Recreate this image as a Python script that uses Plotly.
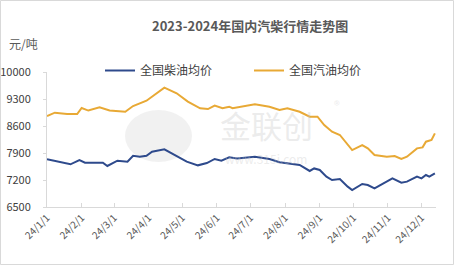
import plotly.graph_objects as go

# ---- data ----
gas_dates = ["2024-01-01", "2024-01-08", "2024-01-19", "2024-01-28", "2024-02-01", "2024-02-07",
             "2024-02-17", "2024-02-26", "2024-03-11", "2024-03-18", "2024-03-30", "2024-04-08",
             "2024-04-15", "2024-04-26", "2024-05-06", "2024-05-17", "2024-05-24", "2024-05-30",
             "2024-06-06", "2024-06-12", "2024-06-15", "2024-07-05", "2024-07-18", "2024-07-27",
             "2024-08-03", "2024-08-14", "2024-08-23", "2024-08-30", "2024-09-05", "2024-09-12",
             "2024-09-19", "2024-09-30", "2024-10-09", "2024-10-14", "2024-10-20", "2024-10-31",
             "2024-11-07", "2024-11-13", "2024-11-18", "2024-11-27", "2024-12-02", "2024-12-05",
             "2024-12-10", "2024-12-13"]
gas_values = [8860, 8945, 8910, 8910, 9067, 9000,
              9085, 9000, 8970, 9118, 9256, 9447,
              9594, 9448, 9231, 9060, 9040, 9127,
              9060, 9100, 9060, 9162, 9100, 9015,
              9060, 8970, 8840, 8840, 8625, 8452,
              8367, 7977, 8107, 8020, 7848, 7805,
              7820, 7744, 7805, 8020, 8046, 8193,
              8240, 8410]

diesel_dates = ["2024-01-01", "2024-01-11", "2024-01-22", "2024-01-30", "2024-02-04", "2024-02-20",
                "2024-02-24", "2024-03-04", "2024-03-13", "2024-03-18", "2024-03-24", "2024-03-30",
                "2024-04-04", "2024-04-15", "2024-04-24", "2024-05-05", "2024-05-15", "2024-05-23",
                "2024-05-30", "2024-06-05", "2024-06-12", "2024-06-19", "2024-07-05", "2024-07-18",
                "2024-07-27", "2024-08-14", "2024-08-23", "2024-08-27", "2024-09-01", "2024-09-07",
                "2024-09-12", "2024-09-19", "2024-09-26", "2024-09-30", "2024-10-09", "2024-10-14",
                "2024-10-20", "2024-10-27", "2024-11-05", "2024-11-13", "2024-11-18", "2024-11-27",
                "2024-12-01", "2024-12-05", "2024-12-08", "2024-12-13"]
diesel_values = [7737, 7676, 7607, 7718, 7650, 7650,
                 7563, 7700, 7676, 7830, 7805, 7830,
                 7935, 7996, 7850, 7676, 7580, 7640,
                 7745, 7700, 7788, 7760, 7805, 7745,
                 7660, 7590, 7434, 7500, 7460, 7286,
                 7200, 7225, 7027, 6940, 7096, 7070,
                 6985, 7096, 7243, 7130, 7157, 7286,
                 7243, 7330, 7286, 7373]

tick_dates = ["2024-01-01", "2024-02-01", "2024-03-01", "2024-04-01", "2024-05-01", "2024-06-01",
              "2024-07-01", "2024-08-01", "2024-09-01", "2024-10-01", "2024-11-01", "2024-12-01"]
tick_labels = ["24/1/1", "24/2/1", "24/3/1", "24/4/1", "24/5/1", "24/6/1",
               "24/7/1", "24/8/1", "24/9/1", "24/10/1", "24/11/1", "24/12/1"]
y_ticks = [6500, 7200, 7900, 8600, 9300, 10000]
y_labels = ["6500", "7200", "7900", "8600", "9300", "10000"]

title_text = "2023-2024年国内汽柴行情走势图"
unit_text = "元/吨"
diesel_name = "全国柴油均价"
gas_name = "全国汽油均价"

# ---- layout constants ----
W, H = 454, 265
L, R, T, B = 47, 18, 72, 58
pw, ph = W - L - R, H - T - B
FONT = "Noto Sans CJK SC, Lato, sans-serif"

fig = go.Figure()
fig.add_trace(go.Scatter(x=diesel_dates, y=diesel_values, mode="lines", name=diesel_name,
                         line=dict(color="#2E4A8C", width=2)))
fig.add_trace(go.Scatter(x=gas_dates, y=gas_values, mode="lines", name=gas_name,
                         line=dict(color="#E8A935", width=2)))

fig.update_layout(
    width=W, height=H,
    margin=dict(l=L, r=R, t=T, b=B, autoexpand=False),
    paper_bgcolor="white", plot_bgcolor="white",
    font=dict(family=FONT, color="#595959", size=11),
    showlegend=True,
    legend=dict(orientation="h", xref="container", yref="container",
                x=100 / W, y=1 - 56 / H, xanchor="left", yanchor="top",
                font=dict(size=12, color="#404040"),
                itemwidth=30, entrywidth=104, entrywidthmode="pixels",
                bgcolor="rgba(0,0,0,0)", tracegroupgap=0),
    xaxis=dict(type="date", range=["2024-01-01", "2024-12-14"],
               tickvals=tick_dates, ticktext=tick_labels, tickangle=-45,
               showgrid=False, showline=True, linecolor="#d9d9d9", linewidth=1,
               ticks="inside", ticklen=4, tickcolor="#d9d9d9",
               tickfont=dict(size=10, color="#595959"), zeroline=False,
               automargin=False),
    yaxis=dict(range=[6500, 10000], tickvals=y_ticks, ticktext=y_labels, showgrid=False,
               showline=True, linecolor="#d9d9d9", linewidth=1,
               ticks="outside", ticklen=3, tickcolor="#d9d9d9",
               tickfont=dict(size=11, color="#404040"), zeroline=False,
               ticklabelstandoff=10, automargin=False),
)

# title and unit
fig.add_annotation(text="<b>" + title_text + "</b>", xref="paper", yref="paper",
                   x=(250 - L) / pw, y=1 + (T - 25) / ph, xanchor="center", yanchor="middle",
                   showarrow=False, font=dict(size=13, color="#595959"))
fig.add_annotation(text=unit_text, xref="paper", yref="paper",
                   x=-(L - 7) / pw, y=1 + (T - 44) / ph, xanchor="left", yanchor="middle",
                   showarrow=False, font=dict(size=12, color="#595959"))

# watermark
wm = "rgba(200,200,200,0.35)"
fig.add_shape(type="circle", xref="paper", yref="paper", layer="below",
              x0=(125 - L) / pw, x1=(192 - L) / pw, y0=1 - (162 - T) / ph, y1=1 - (110 - T) / ph,
              fillcolor="rgba(210,210,210,0.3)", line=dict(width=0))
fig.add_annotation(text="金联创", xref="paper", yref="paper", x=(266 - L) / pw, y=1 - (124 - T) / ph,
                   xanchor="center", yanchor="middle", showarrow=False,
                   font=dict(size=31, color=wm))
fig.add_annotation(text="®", xref="paper", yref="paper", x=(337 - L) / pw, y=1 - (104 - T) / ph,
                   xanchor="center", yanchor="middle", showarrow=False,
                   font=dict(size=12, color=wm))
fig.add_annotation(text="www.315i.com", xref="paper", yref="paper", x=(266 - L) / pw, y=1 - (158 - T) / ph,
                   xanchor="center", yanchor="middle", showarrow=False,
                   font=dict(size=12, color=wm))

# chart border
fig.add_shape(type="rect", xref="paper", yref="paper",
              x0=-(L - 0.5) / pw, x1=1 + (R - 0.5) / pw, y0=-(B - 0.5) / ph, y1=1 + (T - 0.5) / ph,
              line=dict(color="#d9d9d9", width=1), fillcolor="rgba(0,0,0,0)")

fig.write_html("out.html")
